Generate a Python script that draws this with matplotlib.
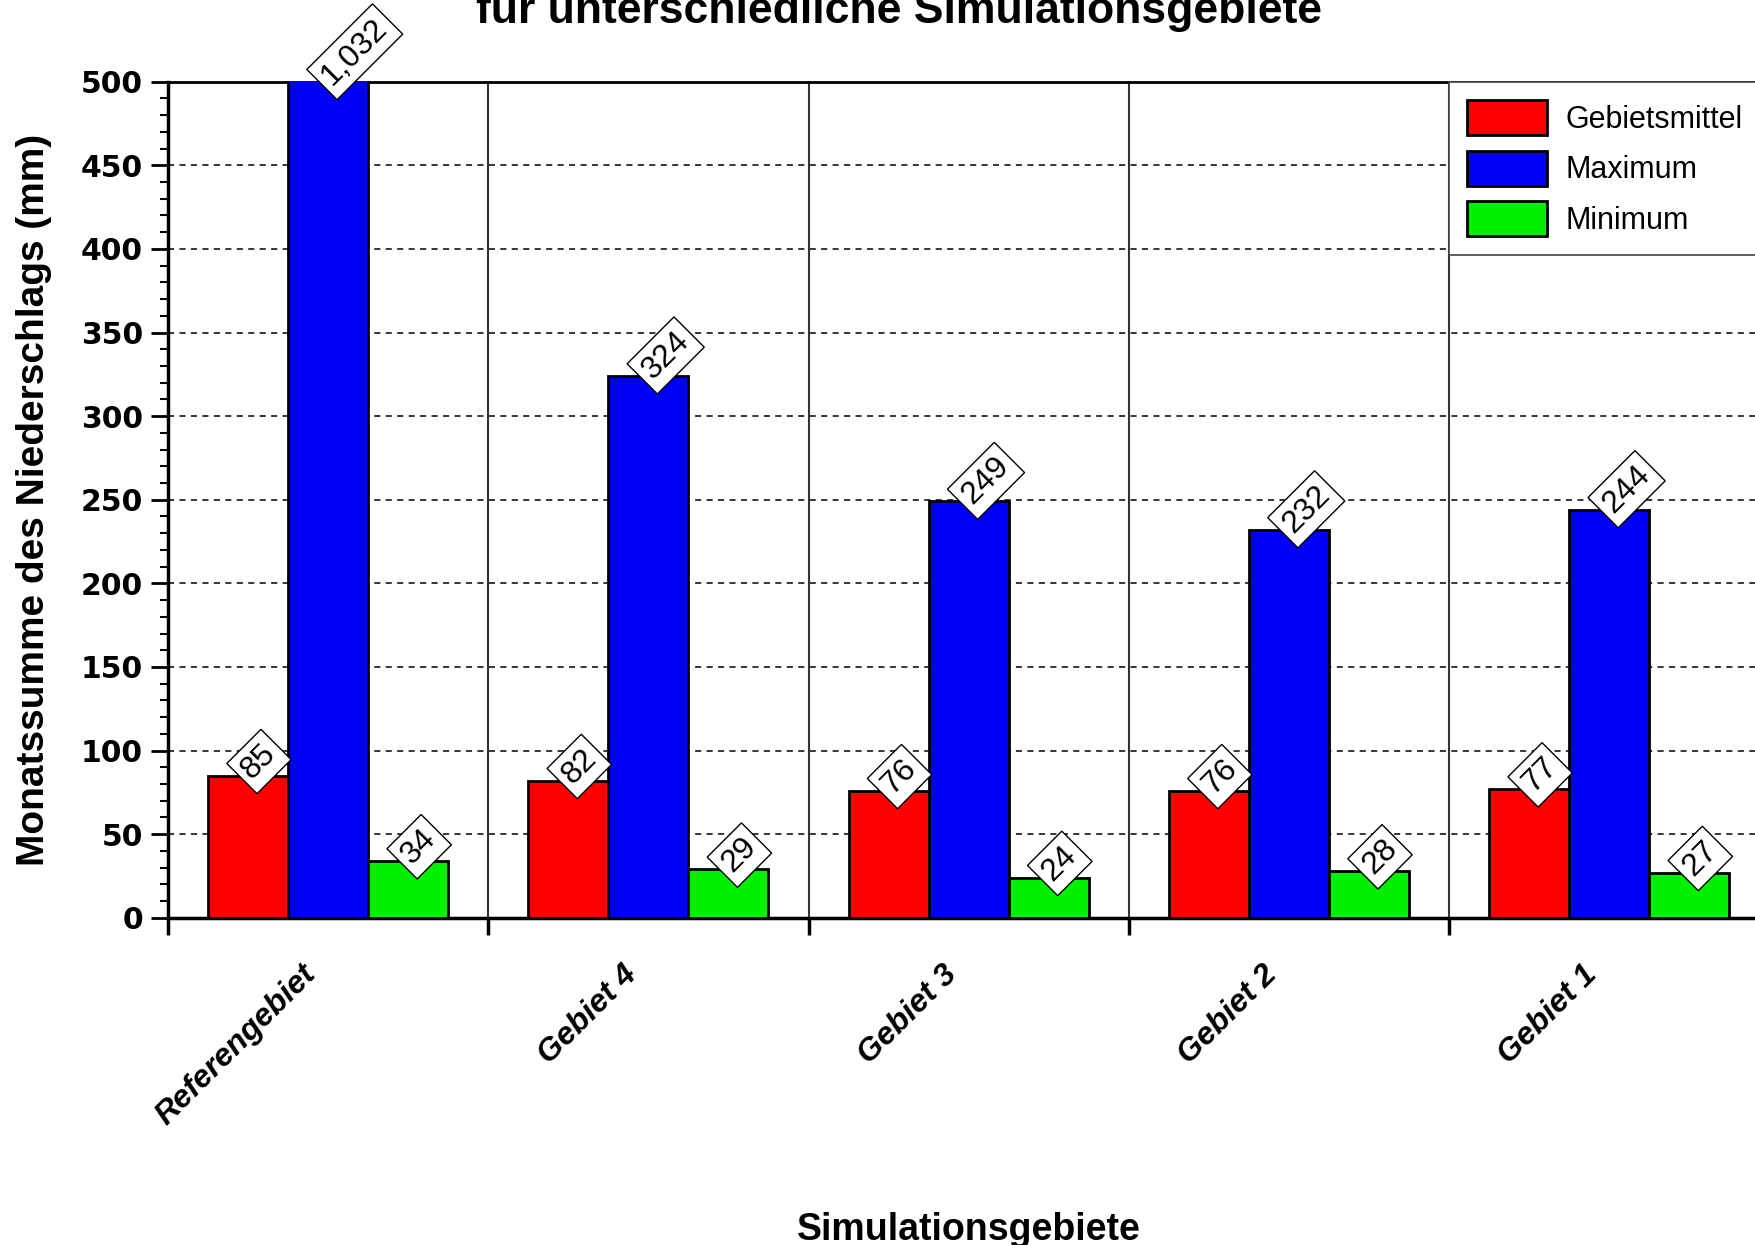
import matplotlib.pyplot as plt
from matplotlib.ticker import MultipleLocator, FixedLocator
import matplotlib.transforms as mtransforms

plt.rcParams['font.family'] = ['Liberation Sans', 'DejaVu Sans']

# Niederschlag je Gebiet (mm)
categories = ['Referengebiet', 'Gebiet 4', 'Gebiet 3', 'Gebiet 2', 'Gebiet 1']
gebietsmittel = [85, 82, 76, 76, 77]
maximum = [1032, 324, 249, 232, 244]
minimum = [34, 29, 24, 28, 27]

series = [('Gebietsmittel', gebietsmittel, '#ff0000'),
          ('Maximum', maximum, '#0000f5'),
          ('Minimum', minimum, '#00f000')]

y_max = 500
bar_w = 0.25

fig = plt.figure(figsize=(17.55, 12.45), dpi=100)
ax = fig.add_axes([0.0957, 0.2628, 0.9125, 0.6716])

centers = [i + 0.5 for i in range(len(categories))]

for k, (name, vals, col) in enumerate(series):
    xs = [c + (k - 1) * bar_w for c in centers]
    ax.bar(xs, vals, bar_w, color=col, edgecolor='black', linewidth=2,
           label=name, zorder=3)
    for x, v in zip(xs, vals):
        ax.annotate(f'{v:,}', xy=(x, min(v, y_max)), xytext=(9, -9),
                    textcoords='offset pixels', rotation=45,
                    rotation_mode='anchor', ha='left', va='bottom',
                    fontsize=23, zorder=5, annotation_clip=False,
                    bbox=dict(boxstyle='square,pad=0.2', fc='white',
                              ec='black', lw=1))

ax.set_xlim(0, len(categories))
ax.set_ylim(0, y_max)

# horizontal dashed grid, solid separators between groups
for y in range(50, y_max, 50):
    ax.axhline(y, color='black', lw=1.1, ls=(0, (4, 3.5)), zorder=1)
for b in range(1, len(categories)):
    ax.axvline(b, color='#333333', lw=1.5, zorder=1)

# group separators as major ticks, names on minor ticks
ax.xaxis.set_major_locator(FixedLocator(range(len(categories) + 1)))
ax.xaxis.set_minor_locator(FixedLocator(centers))
ax.set_xticklabels([], minor=False)
ax.set_xticklabels(categories, minor=True, rotation=45, ha='right',
                   rotation_mode='anchor', fontsize=23, fontweight='bold',
                   fontstyle='italic')
ax.tick_params(axis='x', which='major', direction='out', length=12, width=2.5)
ax.tick_params(axis='x', which='minor', length=0, pad=30)
shift = mtransforms.ScaledTranslation(-27 / 100, 0, fig.dpi_scale_trans)
for lab in ax.xaxis.get_minorticklabels():
    lab.set_transform(lab.get_transform() + shift)

ax.yaxis.set_major_locator(MultipleLocator(50))
ax.yaxis.set_minor_locator(MultipleLocator(10))
ax.tick_params(axis='y', which='major', direction='out', length=12, width=2,
               pad=6)
ax.tick_params(axis='y', which='minor', direction='out', length=6, width=1.5)
for lab in ax.get_yticklabels():
    lab.set_fontfamily('DejaVu Sans')
    lab.set_fontweight('bold')
    lab.set_fontsize(21.5)

for side in ['left', 'bottom']:
    ax.spines[side].set_linewidth(2.5)
ax.spines['top'].set_linewidth(2)
ax.spines['right'].set_visible(False)

leg = ax.legend(loc='upper left', bbox_to_anchor=(0.8, 1.0), borderaxespad=0,
                fontsize=22, frameon=True, fancybox=False, framealpha=1,
                edgecolor='#444444', handlelength=2.6, handleheight=1.4,
                handletextpad=0.6, labelspacing=0.5, borderpad=0.6)
leg.get_frame().set_linewidth(1.2)
leg.set_zorder(10)

fig.text(0.0194, 0.5986, 'Monatssumme des Niederschlags (mm)', rotation=90,
         ha='center', va='center', fontsize=28, fontweight='bold')
fig.text(0.552, 0.0042, 'Simulationsgebiete', ha='center', va='baseline',
         fontsize=27, fontweight='bold')
fig.text(0.512, 0.9815, 'für unterschiedliche Simulationsgebiete',
         ha='center', va='baseline', fontsize=32, fontweight='bold')

fig.savefig('out.png', dpi=100)
